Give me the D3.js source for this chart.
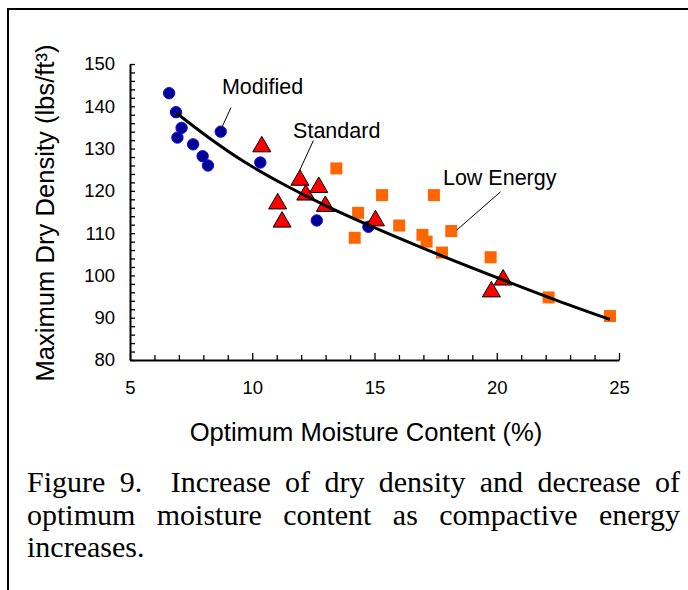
<!DOCTYPE html>
<html>
<head>
<meta charset="utf-8">
<script src="https://cdn.jsdelivr.net/npm/d3@7"></script>
<style>
  body { margin: 0; background: #fff; }
  svg { display: block; }
</style>
</head>
<body>
<svg id="chart" width="688" height="590"></svg>
<script>
// Compaction test results: optimum moisture content (%) vs maximum dry density (lbs/ft3)
const modifiedX = [6.60, 6.88, 7.11, 6.94, 7.58, 7.97, 8.19, 8.71, 10.33, 12.64, 14.75];
const modifiedY = [143.1, 138.6, 134.9, 132.6, 131.0, 128.2, 126.0, 134.0, 126.7, 113.0, 111.5];

const standardX = [10.39, 11.04, 11.22, 11.95, 12.19, 12.72, 12.99, 15.04, 19.78, 20.26];
const standardY = [131.0, 117.5, 113.2, 123.1, 119.6, 121.4, 116.9, 113.5, 96.7, 99.5];

const lowEnergyX = [13.44, 15.31, 17.43, 14.33, 14.19, 16.01, 16.96, 17.13, 18.14, 17.76, 19.75, 22.12, 24.63];
const lowEnergyY = [125.3, 119.0, 119.0, 114.8, 108.9, 111.8, 109.6, 108.0, 110.5, 105.4, 104.3, 94.8, 90.4];

// Trend curve through all compaction energies
const trendX = [6.88, 8.27, 9.64, 11.07, 13.04, 15.0, 17.13, 20.54, 22.5, 24.63];
const trendY = [138.5, 132.4, 127.0, 122.2, 116.4, 111.3, 106.1, 98.3, 94.0, 89.6];

const xTickLabels = [5, 10, 15, 20, 25];
const yTickLabels = [80, 90, 100, 110, 120, 130, 140, 150];

const xTitle = "Optimum Moisture Content (%)";
const yTitle = "Maximum Dry Density (lbs/ft\u00B3)";

// Series labels with their leader lines, in data units
const labelNames = ["Modified", "Standard", "Low Energy"];
const labelAt = [[8.76, 143.0], [11.67, 132.4], [17.80, 121.5]];
const leaderFrom = [[9.13, 139.7], [12.50, 131.9], [20.16, 119.8]];
const leaderTo = [[8.75, 134.9], [11.92, 124.6], [18.36, 110.7]];

const captionLines = [
  "Figure 9.  Increase of dry density and decrease of",
  "optimum moisture content as compactive energy",
  "increases."
];

const zip = (xs, ys) => xs.map((v, i) => [v, ys[i]]);
const modified = zip(modifiedX, modifiedY);
const standard = zip(standardX, standardY);
const lowEnergy = zip(lowEnergyX, lowEnergyY);
const trend = zip(trendX, trendY);

const sans = "'Liberation Sans', Arial, Helvetica, sans-serif";
const serif = "'Liberation Serif', 'Times New Roman', Times, serif";

const svg = d3.select("#chart");

// Page frame (left and top rules)
svg.append("path")
  .attr("d", "M8,590V9H688")
  .attr("fill", "none")
  .attr("stroke", "#000")
  .attr("stroke-width", 2);

const x = d3.scaleLinear().domain([5, 25]).range([130, 619]);
const y = d3.scaleLinear().domain([80, 150]).range([360, 64]);

// Y axis: minor ticks every 2, labels every 10, ticks pointing inward
const yAxis = d3.axisLeft(y)
  .tickValues(d3.range(80, 151, 2))
  .tickSize(-5)
  .tickSizeOuter(0)
  .tickPadding(15)
  .tickFormat(d => yTickLabels.includes(d) ? d : "");

const gy = svg.append("g").attr("transform", "translate(130,0)").call(yAxis);
gy.select(".domain").attr("stroke-width", 2);
gy.selectAll(".tick line").attr("stroke-width", 1.3);
gy.selectAll("text").attr("font-family", sans).attr("font-size", 18.5).attr("fill", "#000");

// X axis: minor ticks every 1, labels every 5
const xAxis = d3.axisBottom(x)
  .tickValues(d3.range(5, 26, 1))
  .tickSize(-5)
  .tickSizeOuter(0)
  .tickPadding(21)
  .tickFormat(d => xTickLabels.includes(d) ? d : "");

const gx = svg.append("g").attr("transform", "translate(0,360)").call(xAxis);
gx.select(".domain").attr("stroke-width", 2);
gx.selectAll(".tick line")
  .attr("stroke-width", 1.3)
  .attr("y2", d => xTickLabels.includes(d) ? -7 : -5);
gx.selectAll("text").attr("font-family", sans).attr("font-size", 18.5).attr("fill", "#000");

// Axis titles
svg.append("text")
  .attr("x", 366)
  .attr("y", 441)
  .attr("text-anchor", "middle")
  .attr("font-family", sans)
  .attr("font-size", 25.6)
  .text(xTitle);

svg.append("text")
  .attr("transform", `translate(54,${(y.range()[0] + y.range()[1]) / 2 + 1}) rotate(-90)`)
  .attr("text-anchor", "middle")
  .attr("font-family", sans)
  .attr("font-size", 25.6)
  .text(yTitle);

// Markers
svg.append("g").selectAll("circle")
  .data(modified)
  .join("circle")
  .attr("cx", d => x(d[0]))
  .attr("cy", d => y(d[1]))
  .attr("r", 5.7)
  .attr("fill", "#000095")
  .attr("stroke", "#1010e0")
  .attr("stroke-width", 1);

svg.append("g").selectAll("rect")
  .data(lowEnergy)
  .join("rect")
  .attr("x", d => x(d[0]) - 6)
  .attr("y", d => y(d[1]) - 6)
  .attr("width", 12)
  .attr("height", 12)
  .attr("fill", "#ff6600");

const tri = "M0,-8L9,7.5L-9,7.5Z";
svg.append("g").selectAll("path")
  .data(standard)
  .join("path")
  .attr("d", tri)
  .attr("transform", d => `translate(${x(d[0])},${y(d[1])})`)
  .attr("fill", "#ff0000")
  .attr("stroke", "#000")
  .attr("stroke-width", 1);

// Trend curve
svg.append("path")
  .datum(trend)
  .attr("d", d3.line().x(d => x(d[0])).y(d => y(d[1])).curve(d3.curveMonotoneX))
  .attr("fill", "none")
  .attr("stroke", "#000")
  .attr("stroke-width", 3);

// Series labels with leaders
labelNames.forEach((name, i) => {
  svg.append("line")
    .attr("x1", x(leaderFrom[i][0])).attr("y1", y(leaderFrom[i][1]))
    .attr("x2", x(leaderTo[i][0])).attr("y2", y(leaderTo[i][1]))
    .attr("stroke", "#000")
    .attr("stroke-width", 1);
  svg.append("text")
    .attr("x", x(labelAt[i][0]))
    .attr("y", y(labelAt[i][1]))
    .attr("font-family", sans)
    .attr("font-size", 21.5)
    .text(name);
});

// Caption, justified between the margins (last line flush left)
const capLeft = 27, capRight = 680, capSize = 30;
const capBaselines = [492, 524.5, 557];
captionLines.forEach((line, li) => {
  const words = line.split(" ");
  const g = svg.append("g");
  const nodes = words.map(w => g.append("text")
    .attr("font-family", serif)
    .attr("font-size", capSize)
    .attr("y", capBaselines[li])
    .text(w));
  const widthOf = n => n.text() ? n.node().getComputedTextLength() : 0;
  const widths = nodes.map(widthOf);
  const last = li === captionLines.length - 1;
  const total = d3.sum(widths);
  const gap = last ? capSize * 0.25 : (capRight - capLeft - total) / (words.length - 1);
  let cx = capLeft;
  nodes.forEach((n, i) => {
    n.attr("x", cx);
    cx += widths[i] + gap;
  });
});
</script>
</body>
</html>
